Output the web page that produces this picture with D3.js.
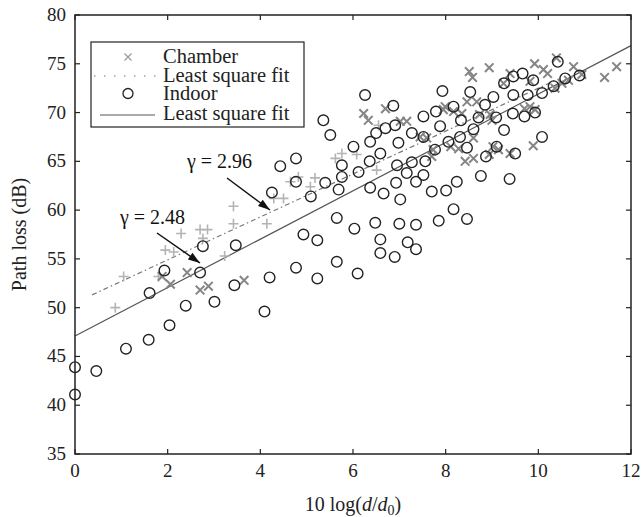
<!DOCTYPE html>
<html>
<head>
<meta charset="utf-8">
<script src="https://cdn.jsdelivr.net/npm/d3@7"></script>
<style>
  body { margin: 0; background: #fff; }
</style>
</head>
<body>
<div id="chart"></div>
<script>
// data
const indoorX = [0, 0, 0.46, 1.1, 1.59, 2.04, 1.61, 1.93, 2.39, 2.76, 2.70, 3.01, 3.47, 3.44, 4.20, 4.09,
  4.25, 4.43, 4.77, 4.77, 5.09, 4.93, 4.77, 5.40, 5.69, 6.37, 6.66, 7.02, 6.93, 7.36, 7.70, 7.85,
  5.65, 6.03, 6.48, 7.0, 7.36, 6.59, 7.18, 7.36, 6.59, 6.90, 5.23, 5.65, 5.23, 6.10, 8.17, 8.46,
  8.01, 8.24, 8.76, 9.38, 10.42, 7.93, 8.53, 7.79, 8.17, 8.33, 7.88, 8.71, 8.85, 9.03, 9.09, 8.60,
  8.31, 8.06, 7.77, 8.46, 9.26, 9.26, 9.46, 9.66, 9.89, 9.46, 9.77, 10.08, 10.33, 10.58, 10.89, 9.45,
  9.70, 9.93, 8.87, 9.10, 9.50, 10.08, 6.26, 6.87, 5.36, 5.51, 7.52, 6.70, 6.91, 6.50, 6.37, 6.01,
  6.98, 7.27, 7.52, 6.59, 6.36, 6.12, 5.76, 5.76, 6.95, 7.27, 7.56, 7.16, 7.52];
const indoorY = [43.9, 41.1, 43.5, 45.8, 46.7, 48.2, 51.5, 53.8, 50.2, 56.3, 53.6, 50.6, 56.4, 52.3, 53.1, 49.6,
  61.8, 64.5, 65.3, 62.9, 61.4, 57.5, 54.1, 62.8, 62.1, 62.3, 61.7, 61.1, 62.8, 62.9, 61.9, 58.9,
  59.2, 58.1, 58.7, 58.6, 58.5, 57.0, 56.7, 56.0, 55.6, 55.2, 56.9, 54.7, 53.0, 53.5, 60.1, 59.1,
  62.0, 62.9, 63.5, 63.2, 75.2, 72.2, 72.1, 70.1, 70.6, 69.2, 68.6, 69.5, 70.8, 71.6, 69.5, 68.3,
  67.5, 67.0, 66.2, 66.4, 68.2, 73.0, 73.7, 74.0, 73.3, 71.8, 71.8, 72.0, 72.7, 73.5, 73.8, 69.9,
  69.6, 70.0, 65.5, 66.5, 65.8, 67.5, 71.8, 70.7, 69.2, 67.7, 69.6, 68.4, 68.7, 67.9, 67.0, 66.5,
  66.9, 67.9, 67.5, 65.8, 65.0, 63.9, 64.6, 63.4, 64.6, 64.9, 65.0, 63.8, 63.6];

// chamber points, light ones (drawn as +)
const chamberLightX = [0.87, 1.05, 1.80, 1.95, 2.13, 2.29, 2.70, 2.86, 2.76, 3.42, 3.42, 4.14, 3.23, 4.29,
  4.50, 4.65, 4.82, 5.08, 5.18, 5.62, 5.76, 6.08, 6.55, 6.51];
const chamberLightY = [50.0, 53.2, 53.2, 55.9, 55.7, 57.6, 58.0, 58.0, 57.1, 60.4, 58.6, 58.6, 55.3, 61.2,
  61.2, 62.9, 63.4, 62.4, 63.3, 65.3, 65.8, 65.7, 68.7, 64.1];
// chamber points, dark ones (drawn as x)
const chamberDarkX = [1.88, 2.06, 2.42, 2.70, 2.88, 3.65, 6.23, 6.33, 6.70, 7.02, 7.16, 7.45, 7.59, 7.70, 7.73,
  8.51, 8.58, 8.94, 9.92, 10.11, 10.20, 10.39, 10.76, 9.25, 9.39, 9.82, 10.51, 10.65, 10.94, 10.36,
  7.95, 7.99, 8.17, 8.35, 8.46, 8.67, 8.73, 8.96, 9.0, 9.70, 9.93, 9.82,
  8.11, 8.28, 8.42, 8.60, 8.60, 9.02, 9.14, 9.39, 9.89, 8.94, 11.43, 11.69];
const chamberDarkY = [53.2, 52.4, 53.6, 51.8, 52.2, 52.8, 69.9, 69.2, 70.4, 69.1, 69.1, 67.5, 67.4, 65.5, 66.2,
  74.2, 73.6, 74.6, 75.0, 74.4, 74.0, 75.6, 74.7, 73.0, 74.0, 73.2, 73.0, 73.3, 73.9, 72.5,
  70.3, 70.6, 70.1, 69.9, 71.1, 71.1, 69.8, 69.8, 69.2, 70.4, 70.3, 70.6,
  66.5, 66.3, 65.0, 65.3, 67.4, 66.5, 66.2, 65.8, 66.6, 65.7, 73.6, 74.7];

// fitted lines (as drawn): [x0, x1], intercept, slope
const indoorFit = { range: [0, 12], a: 47.1, b: 2.48 };
const chamberFit = { range: [0.37, 10.4], a: 50.5, b: 2.2 };

const xTicks = [0, 2, 4, 6, 8, 10, 12];
const yTicks = [35, 40, 45, 50, 55, 60, 65, 70, 75, 80];

const W = 642, H = 517;
const margin = { left: 75, right: 11, top: 15, bottom: 63 };
const serif = "'Liberation Serif', 'Times New Roman', 'DejaVu Serif', serif";

const svg = d3.select("#chart").append("svg")
  .attr("width", W).attr("height", H)
  .attr("font-family", serif);

const x = d3.scaleLinear().domain([0, 12]).range([margin.left, W - margin.right]);
const y = d3.scaleLinear().domain([35, 80]).range([H - margin.bottom, margin.top]);

// fit lines
const line = d3.line().x(d => x(d[0])).y(d => y(d[1]));
function fitPts(f) { return f.range.map(v => [v, f.a + f.b * v]); }

svg.append("path")
  .attr("d", line(fitPts(indoorFit)))
  .attr("fill", "none").attr("stroke", "#555").attr("stroke-width", 1.2);

svg.append("path")
  .attr("d", line(fitPts(chamberFit)))
  .attr("fill", "none").attr("stroke", "#777").attr("stroke-width", 1.2)
  .attr("stroke-dasharray", "5,3,1.5,3");

// markers
const indoor = indoorX.map((v, i) => [v, indoorY[i]]);
const chLight = chamberLightX.map((v, i) => [v, chamberLightY[i]]);
const chDark = chamberDarkX.map((v, i) => [v, chamberDarkY[i]]);

svg.append("g").selectAll("path")
  .data(chLight).join("path")
  .attr("d", d => `M${x(d[0]) - 5},${y(d[1])}h10M${x(d[0])},${y(d[1]) - 5}v10`)
  .attr("stroke", "#b4b4b4").attr("stroke-width", 1.6);

svg.append("g").selectAll("path")
  .data(chDark).join("path")
  .attr("d", d => {
    const cx = x(d[0]), cy = y(d[1]), s = 4.3;
    return `M${cx - s},${cy - s}L${cx + s},${cy + s}M${cx - s},${cy + s}L${cx + s},${cy - s}`;
  })
  .attr("stroke", "#858585").attr("stroke-width", 2);

svg.append("g").selectAll("circle")
  .data(indoor).join("circle")
  .attr("cx", d => x(d[0])).attr("cy", d => y(d[1]))
  .attr("r", 5.3)
  .attr("fill", "none").attr("stroke", "#222").attr("stroke-width", 1.4);

// frame with inward ticks
const x0 = x(0), x1 = x(12), y0 = y(35), y1 = y(80);
svg.append("rect")
  .attr("x", x0).attr("y", y1).attr("width", x1 - x0).attr("height", y0 - y1)
  .attr("fill", "none").attr("stroke", "#222").attr("stroke-width", 1.5);

const tk = 5;
const ticks = svg.append("g").attr("stroke", "#222").attr("stroke-width", 1.2);
xTicks.forEach(t => {
  ticks.append("line").attr("x1", x(t)).attr("x2", x(t)).attr("y1", y0).attr("y2", y0 - tk);
  ticks.append("line").attr("x1", x(t)).attr("x2", x(t)).attr("y1", y1).attr("y2", y1 + tk);
});
yTicks.forEach(t => {
  ticks.append("line").attr("x1", x0).attr("x2", x0 + tk).attr("y1", y(t)).attr("y2", y(t));
  ticks.append("line").attr("x1", x1).attr("x2", x1 - tk).attr("y1", y(t)).attr("y2", y(t));
});

const fs = 19;
svg.append("g").selectAll("text")
  .data(xTicks).join("text")
  .attr("x", d => x(d)).attr("y", y0 + 23)
  .attr("text-anchor", "middle").attr("font-size", fs).attr("fill", "#222")
  .text(d => d);

svg.append("g").selectAll("text")
  .data(yTicks).join("text")
  .attr("x", x0 - 9).attr("y", d => y(d) + 6)
  .attr("text-anchor", "end").attr("font-size", fs).attr("fill", "#222")
  .text(d => d);

// axis titles
const xl = svg.append("text")
  .attr("x", (x0 + x1) / 2).attr("y", 511)
  .attr("text-anchor", "middle").attr("font-size", 20).attr("fill", "#222");
xl.append("tspan").text("10 log(");
xl.append("tspan").attr("font-style", "italic").text("d");
xl.append("tspan").text("/");
xl.append("tspan").attr("font-style", "italic").text("d");
xl.append("tspan").attr("font-size", 14).attr("dy", 4).text("0");
xl.append("tspan").attr("dy", -4).text(")");

svg.append("text")
  .attr("transform", `translate(26,${(y0 + y1) / 2}) rotate(-90)`)
  .attr("text-anchor", "middle").attr("font-size", 20).attr("fill", "#222")
  .text("Path loss (dB)");

// annotations
function arrow(xa, ya, xb, yb) {
  svg.append("line")
    .attr("x1", xa).attr("y1", ya).attr("x2", xb).attr("y2", yb)
    .attr("stroke", "#111").attr("stroke-width", 1.5);
  const ang = Math.atan2(yb - ya, xb - xa), L = 12, w = 4;
  const bx = xb - L * Math.cos(ang), by = yb - L * Math.sin(ang);
  const px = -Math.sin(ang) * w, py = Math.cos(ang) * w;
  svg.append("path")
    .attr("d", `M${xb},${yb}L${bx + px},${by + py}L${bx - px},${by - py}Z`)
    .attr("fill", "#111");
}
svg.append("text").attr("x", 187).attr("y", 168).attr("font-size", 20).attr("fill", "#111")
  .text("γ = 2.96");
arrow(227, 178, 270, 210);
svg.append("text").attr("x", 120).attr("y", 224).attr("font-size", 20).attr("fill", "#111")
  .text("γ = 2.48");
arrow(157, 233, 200, 263);

// legend
const lg = svg.append("g");
lg.append("rect")
  .attr("x", 91).attr("y", 42).attr("width", 213).attr("height", 85)
  .attr("fill", "#fff").attr("stroke", "#222").attr("stroke-width", 1.2);
const rows = [
  { label: "Chamber", y: 56 },
  { label: "Least square fit", y: 75 },
  { label: "Indoor", y: 93 },
  { label: "Least square fit", y: 113 }
];
lg.selectAll("text").data(rows).join("text")
  .attr("x", 163).attr("y", d => d.y + 6.5)
  .attr("font-size", 20.5).attr("fill", "#222")
  .text(d => d.label);
lg.append("path")
  .attr("d", `M${128 - 3.5},${57 - 3.5}l7,7M${128 - 3.5},${57 + 3.5}l7,-7`)
  .attr("stroke", "#999").attr("stroke-width", 1.2);
lg.append("line").attr("x1", 94).attr("x2", 157).attr("y1", 76).attr("y2", 76)
  .attr("stroke", "#777").attr("stroke-width", 1.2).attr("stroke-dasharray", "1.5,8.5");
lg.append("circle").attr("cx", 128).attr("cy", 93.5).attr("r", 5)
  .attr("fill", "none").attr("stroke", "#222").attr("stroke-width", 1.3);
lg.append("line").attr("x1", 100).attr("x2", 155).attr("y1", 115).attr("y2", 115)
  .attr("stroke", "#555").attr("stroke-width", 1.2);
</script>
</body>
</html>
